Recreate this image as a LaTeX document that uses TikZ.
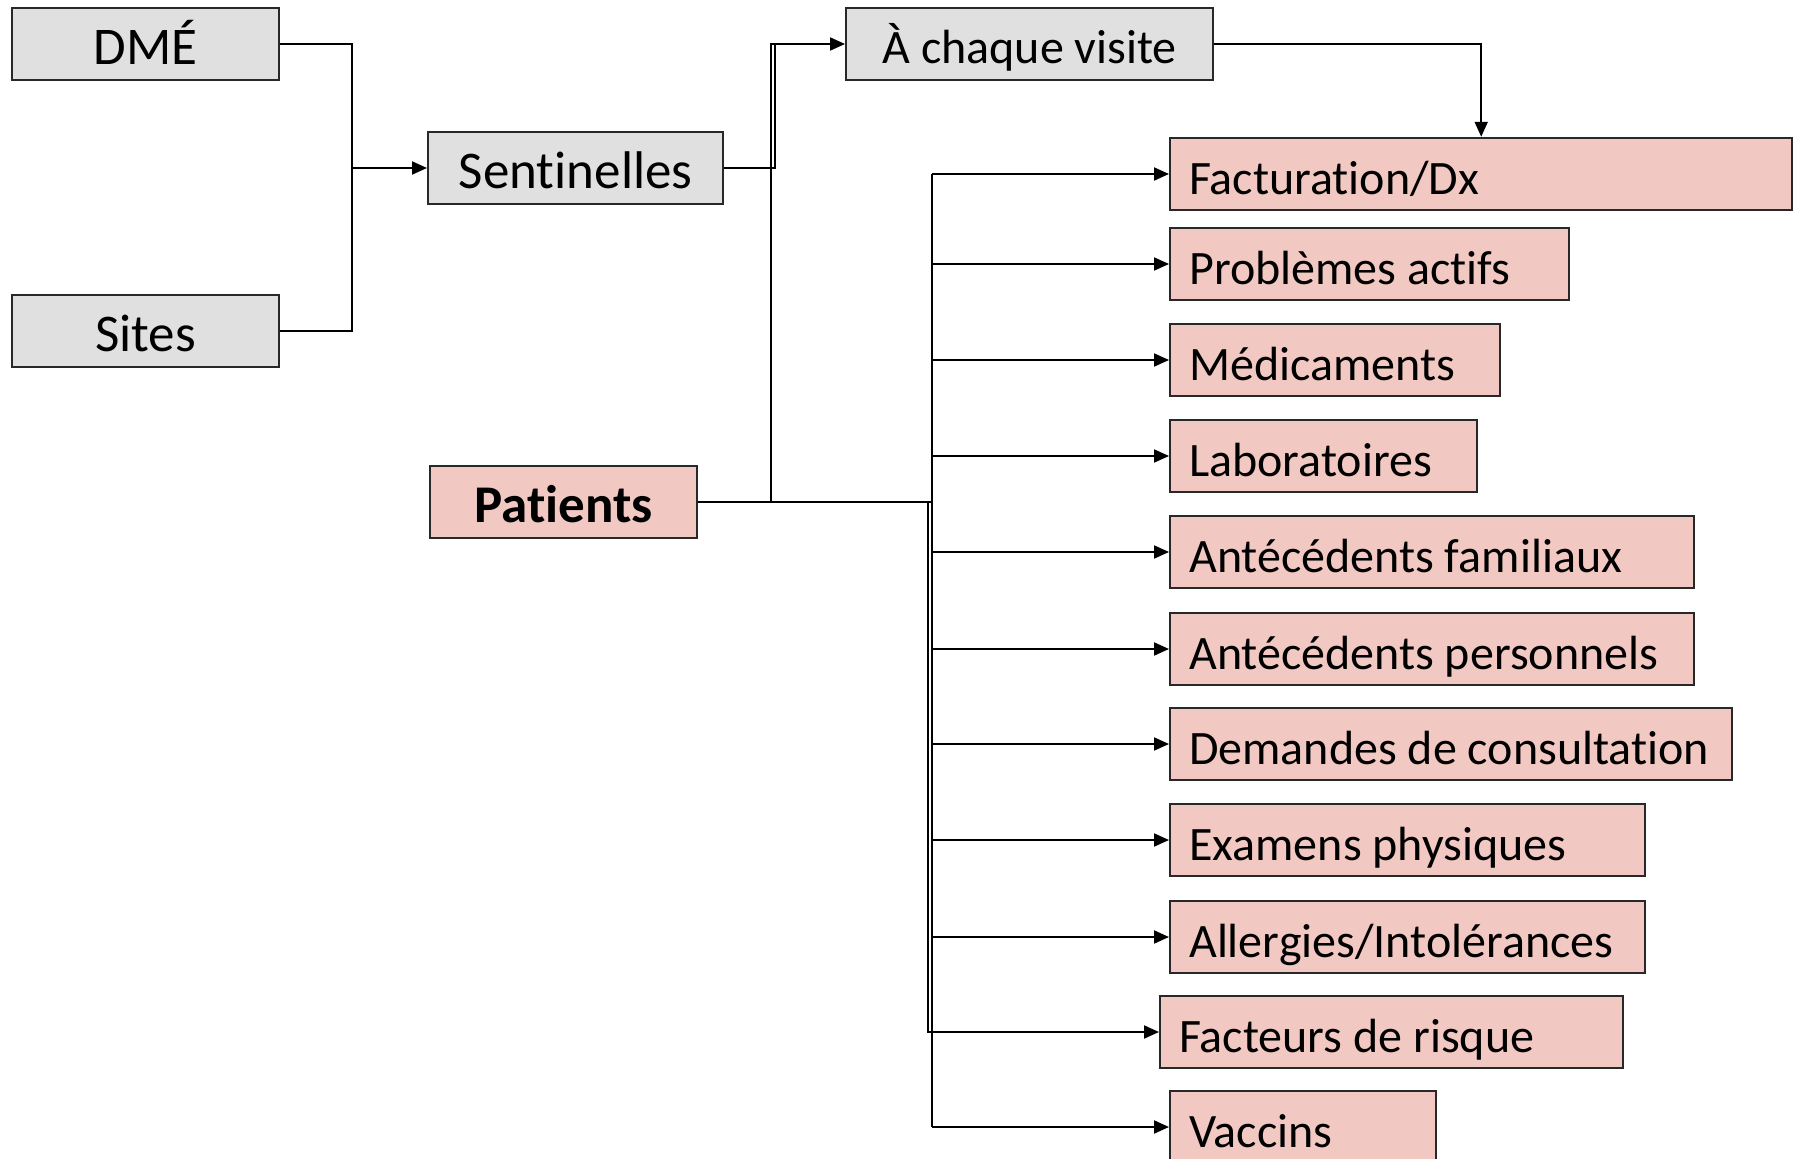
\documentclass[tikz,border=0pt]{standalone}
\usepackage{fontspec}
\setmainfont{Carlito}[Ligatures={NoCommon,NoContextual}]
\usetikzlibrary{arrows.meta}
\newcommand\tI{t\kern0pt i}
\definecolor{boxgray}{RGB}{224,224,224}
\definecolor{boxpink}{RGB}{242,200,194}
\definecolor{edge}{RGB}{40,40,40}
\tikzset{
  gbox/.style={draw=edge, line width=2.4pt, fill=boxgray, inner sep=0pt, minimum height=72pt, anchor=west},
  pbox/.style={draw=edge, line width=2.4pt, fill=boxpink, inner sep=0pt, minimum height=72pt, anchor=west},
  bigtxt/.style={font=\fontsize{53}{60}\selectfont, text height=41pt, text depth=0pt},
  midtxt/.style={font=\fontsize{48}{56}\selectfont, text height=39pt, text depth=0pt},
  rtxt/.style={font=\fontsize{48}{56}\selectfont, inner sep=0pt, anchor=west, text height=31pt, text depth=0pt},
  conn/.style={draw=black, line width=2pt},
  arr/.style={conn, -{Triangle[length=15pt,width=13pt]}},
}
\begin{document}
\begin{tikzpicture}[x=1pt,y=-1pt]
\useasboundingbox (0,0) rectangle (1800,1159);
\clip (0,0) rectangle (1800,1159);
% left column
\node[gbox, bigtxt, minimum width=267pt] (dme) at (11,44) {DMÉ};
\node[gbox, bigtxt, minimum width=267pt] (sites) at (11,331) {Sites};
\node[gbox, bigtxt, minimum width=295pt] (sent) at (427,168) {Sen\tI nelles};
\node[gbox, midtxt, minimum width=367pt] (visite) at (845,44) {À chaque visite};
\node[pbox, bigtxt, minimum width=267pt] (patients) at (429,502) {\bfseries Pa\tI ents};
% right column
\node[pbox, minimum width=622pt] (fact) at (1169,174) {};
\node[pbox, minimum width=399pt] (prob) at (1169,264) {};
\node[pbox, minimum width=330pt] (med) at (1169,360) {};
\node[pbox, minimum width=307pt] (lab) at (1169,456) {};
\node[pbox, minimum width=524pt] (antf) at (1169,552) {};
\node[pbox, minimum width=524pt] (antp) at (1169,649) {};
\node[pbox, minimum width=562pt] (dem) at (1169,744) {};
\node[pbox, minimum width=475pt] (exam) at (1169,840) {};
\node[pbox, minimum width=475pt] (aller) at (1169,937) {};
\node[pbox, minimum width=463pt] (factr) at (1159,1032) {};
\node[pbox, minimum width=266pt] (vacc) at (1169,1127) {};
\node[rtxt] (tfact) at ([xshift=20pt,yshift=-4.5pt]fact.west) {Factura\tI on/Dx};
\node[rtxt] (tprob) at ([xshift=20pt,yshift=-4.5pt]prob.west) {Problèmes ac\tI fs};
\node[rtxt] (tmed) at ([xshift=20pt,yshift=-4.5pt]med.west) {Médicaments};
\node[rtxt] (tlab) at ([xshift=20pt,yshift=-4.5pt]lab.west) {Laboratoires};
\node[rtxt] (tantf) at ([xshift=20pt,yshift=-4.5pt]antf.west) {Antécédents familiaux};
\node[rtxt] (tantp) at ([xshift=20pt,yshift=-4.5pt]antp.west) {Antécédents personnels};
\node[rtxt] (tdem) at ([xshift=20pt,yshift=-4.5pt]dem.west) {Demandes de consulta\tI on};
\node[rtxt] (texam) at ([xshift=20pt,yshift=-4.5pt]exam.west) {Examens physiques};
\node[rtxt] (taller) at ([xshift=20pt,yshift=-4.5pt]aller.west) {Allergies/Intolérances};
\node[rtxt] (tfactr) at ([xshift=20pt,yshift=-4.5pt]factr.west) {Facteurs de risque};
\node[rtxt] (tvacc) at ([xshift=20pt,yshift=-4.5pt]vacc.west) {Vaccins};
% junction coordinates
\coordinate (j1) at (352,168);
\coordinate (j2) at (775,44);
\coordinate (j3) at (771,44);
\coordinate (j4) at (932,502);
\coordinate (k) at (928,502);
\coordinate (bt) at (932,174);
\coordinate (bb) at (932,1127);
% connectors
\draw[conn] (dme.east) -| (j1) |- (sites.east);
\draw[arr] (j1) -- (sent.west);
\draw[arr] (sent.east) -| (j2) -- (visite.west);
\draw[conn] (patients.east) -| (j3) -- (j2);
\draw[conn] (patients.east) -- (j4);
\draw[conn] (bt) -- (bb);
\draw[arr] (visite.east) -| (fact.north);
\draw[arr] (bt) -- (fact.west);
\draw[arr] (bt |- prob.west) -- (prob.west);
\draw[arr] (bt |- med.west) -- (med.west);
\draw[arr] (bt |- lab.west) -- (lab.west);
\draw[arr] (bt |- antf.west) -- (antf.west);
\draw[arr] (bt |- antp.west) -- (antp.west);
\draw[arr] (bt |- dem.west) -- (dem.west);
\draw[arr] (bt |- exam.west) -- (exam.west);
\draw[arr] (bt |- aller.west) -- (aller.west);
\draw[arr] (k) |- (factr.west);
\draw[arr] (bb) -- (vacc.west);
\end{tikzpicture}
\end{document}
